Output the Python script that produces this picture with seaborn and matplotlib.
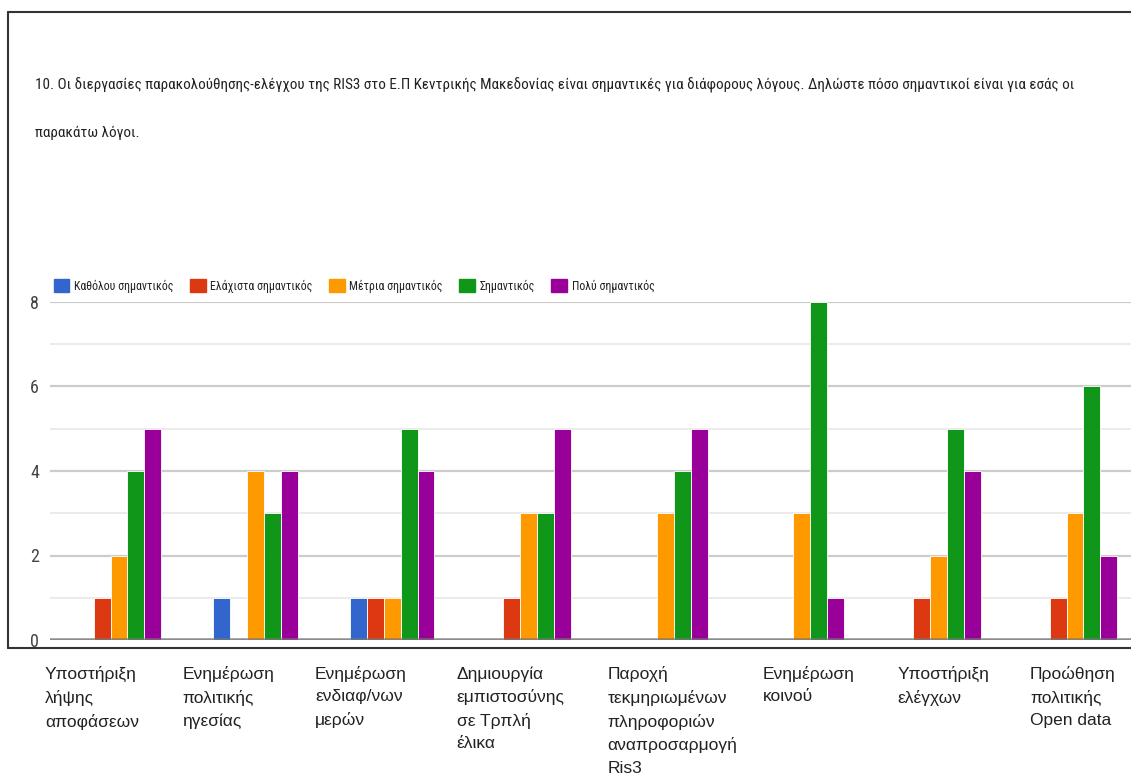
import numpy as np
import pandas as pd
import matplotlib
matplotlib.use("Agg")
import matplotlib.pyplot as plt
import matplotlib.transforms as mtransforms
from matplotlib import font_manager
from matplotlib.lines import Line2D
from matplotlib.patches import Patch
import seaborn as sns

# ---------------- data ----------------
categories = [
    "Υποστήριξη\nλήψης\nαποφάσεων",
    "Ενημέρωση\nπολιτικής\nηγεσίας",
    "Ενημέρωση\nενδιαφ/νων\nμερών",
    "Δημιουργία\nεμπιστοσύνης\nσε Τρπλή\nέλικα",
    "Παροχή\nτεκμηριωμένων\nπληροφοριών\nαναπροσαρμογή\nRis3",
    "Ενημέρωση\nκοινού",
    "Υποστήριξη\nελέγχων",
    "Προώθηση\nπολιτικής\nOpen data",
]
series_names = ["Καθόλου σημαντικός", "Ελάχιστα σημαντικός", "Μέτρια σημαντικός",
                "Σημαντικός", "Πολύ σημαντικός"]
katholou = [0, 1, 1, 0, 0, 0, 0, 0]
elaxista = [1, 0, 1, 1, 0, 0, 1, 1]
metria = [2, 4, 1, 3, 3, 3, 2, 3]
simantikos = [4, 3, 5, 3, 4, 8, 5, 6]
poly = [5, 4, 4, 5, 5, 1, 4, 2]
y_ticks = [0, 2, 4, 6, 8]
title_line1 = ("10. Οι διεργασίες παρακολούθησης-ελέγχου της RIS3 στο Ε.Π Κεντρικής Μακεδονίας "
               "είναι σημαντικές για διάφορους λόγους. Δηλώστε πόσο σημαντικοί είναι για εσάς οι")
title_line2 = "παρακάτω λόγοι."

colors = ["#3366cc", "#dc3912", "#ff9900", "#109618", "#990099"]

# ---------------- build table ----------------
values = [katholou, elaxista, metria, simantikos, poly]
rows = []
for s, vals in zip(series_names, values):
    for c, v in zip(categories, vals):
        rows.append({"cat": c, "series": s, "value": v})
df = pd.DataFrame(rows)

# ---------------- fonts ----------------
sns.set_style("white")
available = {f.name for f in font_manager.fontManager.ttflist}
narrow_pref = [n for n in ["Liberation Sans Narrow", "Roboto Condensed", "Open Sans Condensed",
                           "Roboto", "Liberation Sans"] if n in available]
narrow = narrow_pref[:1] + ["DejaVu Sans"]
plt.rcParams["font.family"] = ["Liberation Sans", "DejaVu Sans"]

W, H = 1131, 778
fig = plt.figure(figsize=(W / 100, H / 100), dpi=100)
renderer = fig.canvas.get_renderer()

ax_left, ax_right, ax_top, ax_bottom = 50, 1131, 302, 640
ax = fig.add_axes([ax_left / W, 1 - ax_bottom / H, (ax_right - ax_left) / W,
                   (ax_bottom - ax_top) / H])

sns.barplot(data=df, x="cat", y="value", hue="series", order=categories,
            hue_order=series_names, palette=colors, width=0.62, dodge=True,
            edgecolor="white", linewidth=0.6, saturation=1, legend=False,
            ax=ax, zorder=3)

ax.set_xlim(-0.505, 7.41)
ax.set_ylim(0, 8)
ax.set_yticks(y_ticks)
ax.set_yticklabels([str(t) for t in y_ticks], family=narrow, fontsize=13, color="#444444")
ax.set_yticks([1, 3, 5, 7], minor=True)
ax.tick_params(axis="y", which="both", length=0, pad=8)
ax.grid(axis="y", which="major", color="#cccccc", linewidth=1.6, zorder=0)
ax.grid(axis="y", which="minor", color="#ebebeb", linewidth=1.4, zorder=0)
ax.grid(axis="x", visible=False)
ax.set_axisbelow(True)
for sp in ax.spines.values():
    sp.set_visible(False)
ax.axhline(0, color="#777777", linewidth=2.6, alpha=0.75, zorder=5)
ax.set_xlabel("")
ax.set_ylabel("")
ax.set_xticks([])

# category labels, left-aligned text blocks under each group
label_dx = [-74, -73, -77, -72, -58, -39, -41, -45]
blend = mtransforms.blended_transform_factory(ax.transData, ax.transAxes)
for i, (lab, dx) in enumerate(zip(categories, label_dx)):
    tr = blend + mtransforms.ScaledTranslation(dx / 100, 0, fig.dpi_scale_trans)
    ax.text(i, -26 / (ax_bottom - ax_top), lab, transform=tr, ha="left", va="top",
            fontsize=12.5, color="#222222", linespacing=1.6,
            family=["Liberation Sans", "DejaVu Sans"], clip_on=False)

# legend, sized so it spans the same width as in the reference
handles = [Patch(facecolor=c, edgecolor=c) for c in colors]


def make_legend(size):
    return fig.legend(handles, series_names, loc="center left",
                      bbox_to_anchor=(48 / W, 1 - 286 / H), ncol=5, frameon=False,
                      borderpad=0, handlelength=1.3, handleheight=1.3, handletextpad=0.4,
                      columnspacing=1.4, prop={"family": narrow, "size": size},
                      labelcolor="#222222")


leg_size = 11
leg = make_legend(leg_size)
wpx = leg.get_window_extent(renderer).width
leg.remove()
leg_size = leg_size * 600 / wpx
leg = make_legend(leg_size)
wpx = leg.get_window_extent(renderer).width
leg.remove()
leg_size = leg_size * 600 / wpx
leg = make_legend(leg_size)

# title, sized so the first line spans the same width as in the reference
t1 = fig.text(35 / W, 1 - 85 / H, title_line1, ha="left", va="center", fontsize=14,
              family=narrow, color="#222222")
tw = t1.get_window_extent(renderer).width
tsize = 14 * 1045 / tw
t1.set_fontsize(tsize)
fig.text(35 / W, 1 - 133 / H, title_line2, ha="left", va="center", fontsize=tsize,
         family=narrow, color="#222222")

# outer frame
frame_kw = dict(color="#333333", linewidth=1.5, transform=fig.transFigure)
fig.add_artist(Line2D([8 / W, 1], [1 - 12 / H, 1 - 12 / H], **frame_kw))
fig.add_artist(Line2D([8 / W, 8 / W], [1 - 12 / H, 1 - 648 / H], **frame_kw))
fig.add_artist(Line2D([8 / W, 1], [1 - 648 / H, 1 - 648 / H], **frame_kw))

fig.savefig("out.png", dpi=100, facecolor="white")
